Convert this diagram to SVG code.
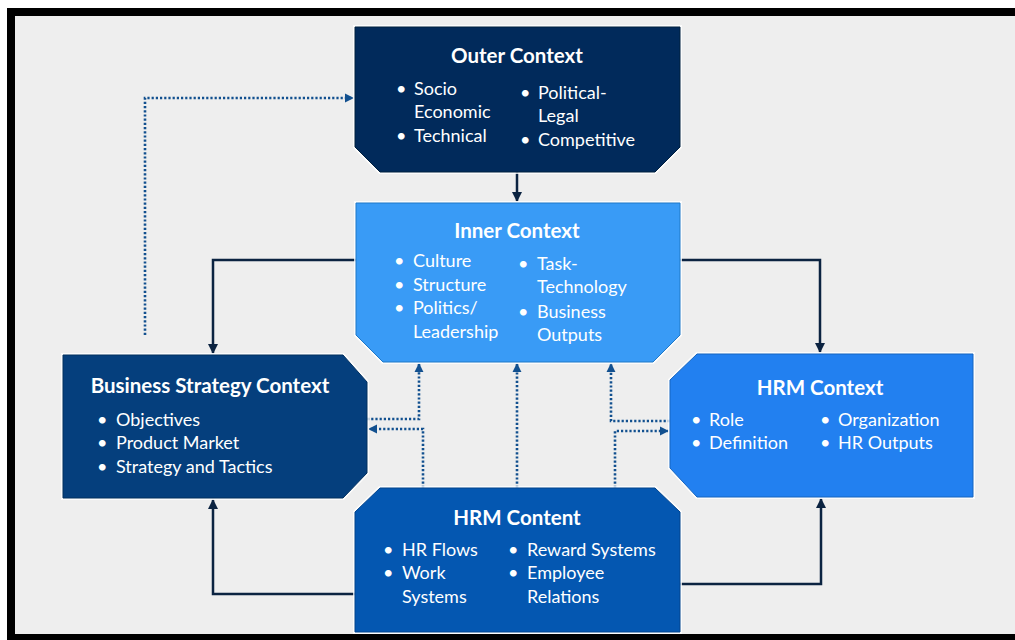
<svg xmlns="http://www.w3.org/2000/svg" width="1015" height="640" viewBox="0 0 1015 640">
<defs>
<style>
.title{font-family:Lato,"Open Sans",sans-serif;font-weight:bold;font-size:20.5px;fill:#fff;text-anchor:middle}
.item{font-family:Lato,"Open Sans",sans-serif;font-size:18px;fill:#fff}
.halo{fill:none;stroke:#ffffff;stroke-width:4;stroke-opacity:0.8}
.solid{fill:none;stroke:#0B2341;stroke-width:2.5}
.dot{fill:none;stroke:#12508F;stroke-width:2.6;stroke-dasharray:2.2 2}
</style>
<marker id="ah" viewBox="0 0 10 10" refX="9" refY="5" markerWidth="4" markerHeight="4" orient="auto" markerUnits="strokeWidth">
<path d="M0,0 L10,5 L0,10 z" fill="#0B2341"/>
</marker>
<marker id="ad" viewBox="0 0 10 10" refX="9" refY="5" markerWidth="3.6" markerHeight="3.6" orient="auto" markerUnits="strokeWidth">
<path d="M0,0 L10,5 L0,10 z" fill="#12508F"/>
</marker>
</defs>
<rect x="0" y="0" width="1015" height="640" fill="#ffffff"/>
<rect x="11" y="12" width="1020" height="626" fill="#EEEEEE" stroke="#000000" stroke-width="8"/>

<g id="connectors">
<path class="solid" d="M517,172 L517,201" marker-end="url(#ah)"/>
<path class="solid" d="M356,260 L213,260 L213,353" marker-end="url(#ah)"/>
<path class="solid" d="M680,260 L820,260 L820,352" marker-end="url(#ah)"/>
<path class="solid" d="M355,594 L213,594 L213,500" marker-end="url(#ah)"/>
<path class="solid" d="M680,584 L821,584 L821,499" marker-end="url(#ah)"/>
<path class="dot" d="M145,335 L145,98 L353,98" marker-end="url(#ad)"/>
<path class="dot" d="M367,419 L419,419 L419,364" marker-end="url(#ad)"/>
<path class="dot" d="M423,488 L423,429 L369,429" marker-end="url(#ad)"/>
<path class="dot" d="M517,488 L517,364" marker-end="url(#ad)"/>
<path class="dot" d="M670,421 L611,421 L611,364" marker-end="url(#ad)"/>
<path class="dot" d="M615,488 L615,431 L668,431" marker-end="url(#ad)"/>
</g>

<g id="outer-context">
<polygon class="halo" points="355,27 680,27 680,147 655,172 380,172 355,147"/>
<polygon points="355,27 680,27 680,147 655,172 380,172 355,147" fill="#012A5B" stroke="#01203F" stroke-width="1"/>
<text class="title" x="517" y="63">Outer Context</text>
<text class="item" x="396" y="95">•</text><text class="item" x="414" y="95">Socio</text>
<text class="item" x="414" y="118">Economic</text>
<text class="item" x="396" y="142">•</text><text class="item" x="414" y="142">Technical</text>
<text class="item" x="520" y="99">•</text><text class="item" x="538" y="99">Political-</text>
<text class="item" x="538" y="122">Legal</text>
<text class="item" x="520" y="146">•</text><text class="item" x="538" y="146">Competitive</text>
</g>

<g id="inner-context">
<polygon class="halo" points="356,203 680,203 680,335 653,362 383,362 356,335"/>
<polygon points="356,203 680,203 680,335 653,362 383,362 356,335" fill="#399BF6" stroke="#1E78C8" stroke-width="1"/>
<text class="title" x="517" y="238">Inner Context</text>
<text class="item" x="394" y="267">•</text><text class="item" x="413" y="267">Culture</text>
<text class="item" x="394" y="291">•</text><text class="item" x="413" y="291">Structure</text>
<text class="item" x="394" y="314">•</text><text class="item" x="413" y="314">Politics/</text>
<text class="item" x="413" y="338">Leadership</text>
<text class="item" x="518" y="270">•</text><text class="item" x="537" y="270">Task-</text>
<text class="item" x="537" y="293">Technology</text>
<text class="item" x="518" y="318">•</text><text class="item" x="537" y="318">Business</text>
<text class="item" x="537" y="341">Outputs</text>
</g>

<g id="business-strategy-context">
<polygon class="halo" points="63,355 343,355 367,382 367,473 343,498 63,498"/>
<polygon points="63,355 343,355 367,382 367,473 343,498 63,498" fill="#053F7D" stroke="#02305F" stroke-width="1"/>
<text class="title" x="210" y="393">Business Strategy Context</text>
<text class="item" x="97" y="426">•</text><text class="item" x="116" y="426">Objectives</text>
<text class="item" x="97" y="449">•</text><text class="item" x="116" y="449">Product Market</text>
<text class="item" x="97" y="473">•</text><text class="item" x="116" y="473">Strategy and Tactics</text>
</g>

<g id="hrm-context">
<polygon class="halo" points="697,354 973,354 973,497 697,497 670,468 670,380"/>
<polygon points="697,354 973,354 973,497 697,497 670,468 670,380" fill="#2280F0" stroke="#1565C0" stroke-width="1"/>
<text class="title" x="820" y="395">HRM Context</text>
<text class="item" x="691" y="426">•</text><text class="item" x="709" y="426">Role</text>
<text class="item" x="691" y="449">•</text><text class="item" x="709" y="449">Definition</text>
<text class="item" x="820" y="426">•</text><text class="item" x="838" y="426">Organization</text>
<text class="item" x="820" y="449">•</text><text class="item" x="838" y="449">HR Outputs</text>
</g>

<g id="hrm-content">
<polygon class="halo" points="380,488 655,488 680,512 680,632 355,632 355,512"/>
<polygon points="380,488 655,488 680,512 680,632 355,632 355,512" fill="#0457B1" stroke="#03448C" stroke-width="1"/>
<text class="title" x="517" y="525">HRM Content</text>
<text class="item" x="383" y="556">•</text><text class="item" x="402" y="556">HR Flows</text>
<text class="item" x="383" y="579">•</text><text class="item" x="402" y="579">Work</text>
<text class="item" x="402" y="603">Systems</text>
<text class="item" x="508" y="556">•</text><text class="item" x="527" y="556">Reward Systems</text>
<text class="item" x="508" y="579">•</text><text class="item" x="527" y="579">Employee</text>
<text class="item" x="527" y="603">Relations</text>
</g>
</svg>
